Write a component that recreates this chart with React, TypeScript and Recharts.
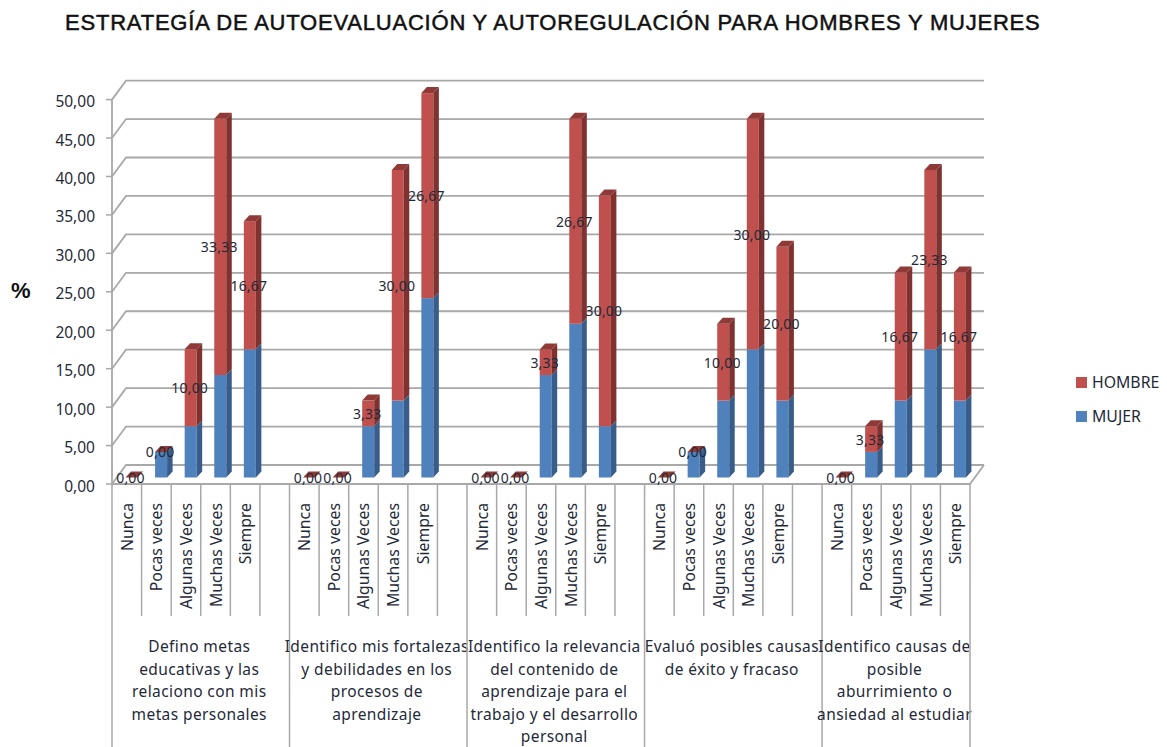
import { BarChart, Bar, XAxis, YAxis, CartesianGrid, Legend, LabelList } from 'recharts';

const FONT = '"Noto Sans", sans-serif';
const GRID = '#a8a8a8';
const TEXT = '#1f2a38';

const answers = ['Nunca', 'Pocas veces', 'Algunas Veces', 'Muchas Veces', 'Siempre', ''];
const categories = [...answers, ...answers, ...answers, ...answers, ...answers.slice(0, 5)];

const groupLabels = [
  ['Defino metas', 'educativas y las', 'relaciono con mis', 'metas personales'],
  ['Identifico mis fortalezas', 'y debilidades en los', 'procesos de', 'aprendizaje'],
  ['Identifico la relevancia', 'del contenido de', 'aprendizaje para el', 'trabajo y el desarrollo', 'personal'],
  ['Evaluó posibles causas', 'de éxito y fracaso'],
  ['Identifico causas de', 'posible', 'aburrimiento o', 'ansiedad al estudiar'],
];

const mujer = [
  0, 3.33, 6.67, 13.33, 16.67, null,
  0, 0, 6.67, 10, 23.33, null,
  0, 0, 13.33, 20, 6.67, null,
  0, 3.33, 10, 16.67, 10, null,
  0, 3.33, 10, 16.67, 10,
];
const hombre = [
  0, 0, 10, 33.33, 16.67, null,
  0, 0, 3.33, 30, 26.67, null,
  0, 0, 3.33, 26.67, 30, null,
  0, 0, 10, 30, 20, null,
  0, 3.33, 16.67, 23.33, 16.67,
];
const yTicks = [0, 5, 10, 15, 20, 25, 30, 35, 40, 45, 50];

const chartData = categories.map((name, i) => ({ name, MUJER: mujer[i], HOMBRE: hombre[i] }));

const PLOT_LEFT = 112;
const PLOT_RIGHT = 970;
const PLOT_TOP = 99.6;
const PLOT_BOTTOM = 484;
const SLOT = (PLOT_RIGHT - PLOT_LEFT) / categories.length;

// fake 3D offsets, Excel style
const WALL_DX = 14;
const WALL_DY = 19;
const BAR_DX = 4.5;
const BAR_DY = 6.5;
const DEPTH_X = 5.5;
const DEPTH_Y = 6;

const fmt = (v: number) => v.toFixed(2).replace('.', ',');

function GridLine({ x1, y1, x2, y2 }: any) {
  const isFloor = Math.abs(y1 - PLOT_BOTTOM) < 1;
  return (
    <g fill="none" stroke={GRID} strokeWidth={1.8}>
      <polyline points={`${x1},${y1} ${x1 + WALL_DX},${y1 - WALL_DY} ${x2 + WALL_DX},${y2 - WALL_DY}`} />
      {isFloor && <polyline points={`${x1},${y1} ${x2},${y2} ${x2 + WALL_DX},${y2 - WALL_DY}`} />}
    </g>
  );
}

function Bar3D({ x, y, width, height, front, side, top, cap, payload }: any) {
  if (payload.name === '') return null;
  const left = x + BAR_DX;
  const right = left + width;
  const t = y - BAR_DY;
  const b = t + height;
  return (
    <g>
      <rect x={left} y={t} width={width} height={height} fill={front} />
      <polygon
        points={`${right},${t} ${right + DEPTH_X},${t - DEPTH_Y} ${right + DEPTH_X},${b - DEPTH_Y} ${right},${b}`}
        fill={side}
      />
      {cap && (
        <polygon
          points={`${left},${t} ${left + DEPTH_X},${t - DEPTH_Y} ${right + DEPTH_X},${t - DEPTH_Y} ${right},${t}`}
          fill={top}
        />
      )}
    </g>
  );
}

function ValueLabel({ x, y, width, height, value }: any) {
  if (value == null) return null;
  return (
    <text
      x={x + width / 2 + 3.5}
      y={y + height / 2 - BAR_DY}
      textAnchor="middle"
      dominantBaseline="central"
      fontFamily={FONT}
      fontSize={14}
      letterSpacing={0.2}
      fill={TEXT}
    >
      {fmt(Number(value))}
    </text>
  );
}

function CategoryTick({ x, index, payload }: any) {
  const group = Math.floor(index / 6);
  const isGroupStart = index % 6 === 0;
  const isSpacer = index % 6 === 5;
  const isLast = index === categories.length - 1;
  const lines: string[] = groupLabels[group];
  const groupWidth = group === 4 ? SLOT * 5 : SLOT * 6;
  const slotLeft = x - SLOT / 2;
  return (
    <g>
      {isGroupStart && (
        <line x1={slotLeft} x2={slotLeft} y1={PLOT_BOTTOM} y2={747} stroke={GRID} strokeWidth={1.5} />
      )}
      {!isSpacer && (
        <line
          x1={x + SLOT / 2}
          x2={x + SLOT / 2}
          y1={PLOT_BOTTOM}
          y2={isLast ? 747 : 616}
          stroke={GRID}
          strokeWidth={1.5}
        />
      )}
      {payload.value && (
        <text
          transform={`translate(${x},503) rotate(-90)`}
          textAnchor="end"
          dominantBaseline="central"
          fontFamily={FONT}
          fontSize={15.8}
          fill={TEXT}
        >
          {payload.value}
        </text>
      )}
      {isGroupStart &&
        lines.map((line, i) => (
          <text
            key={line}
            x={slotLeft + groupWidth / 2 - 1.5}
            y={646 + i * 22.5}
            textAnchor="middle"
            dominantBaseline="central"
            fontFamily={FONT}
            fontSize={15.5}
            letterSpacing={0.4}
            fill={TEXT}
          >
            {line}
          </text>
        ))}
    </g>
  );
}

function LegendBox({ payload }: any) {
  return (
    <div style={{ fontFamily: FONT, fontSize: 15.8, color: TEXT }}>
      {(payload ?? []).map((item: any) => (
        <div key={item.value} style={{ display: 'flex', alignItems: 'center', height: 34 }}>
          <span style={{ width: 11, height: 11, background: item.color, marginRight: 5 }} />
          {item.value}
        </div>
      ))}
    </div>
  );
}

export default function App() {
  return (
    <div style={{ position: 'absolute', left: 0, top: 0, width: 1167, height: 747, background: '#fff', overflow: 'hidden' }}>
      <div
        style={{
          position: 'absolute',
          left: 65,
          top: 10,
          fontFamily: '"Liberation Sans", Arial, sans-serif',
          fontSize: 22,
          letterSpacing: 0.79,
          WebkitTextStroke: '0.5px #111',
          color: '#111',
          whiteSpace: 'nowrap',
        }}
      >
        ESTRATEGÍA DE AUTOEVALUACIÓN Y AUTOREGULACIÓN PARA HOMBRES Y MUJERES
      </div>
      <div
        style={{
          position: 'absolute',
          left: 11,
          top: 278,
          fontFamily: '"Liberation Sans", Arial, sans-serif',
          fontSize: 22,
          fontWeight: 700,
          color: '#111',
        }}
      >
        %
      </div>
      <BarChart
        width={1167}
        height={747}
        data={chartData}
        margin={{ top: PLOT_TOP, right: 1167 - PLOT_RIGHT, bottom: 0, left: 0 }}
        barSize={12}
        style={{ position: 'absolute', left: 0, top: 0 }}
      >
        <CartesianGrid vertical={false} horizontal={(props: any) => <GridLine key={props.key ?? props.y1} {...props} />} />
        <XAxis
          dataKey="name"
          interval={0}
          height={747 - PLOT_BOTTOM}
          tickLine={false}
          axisLine={false}
          tick={CategoryTick}
        />
        <YAxis
          width={PLOT_LEFT}
          domain={[0, 50]}
          ticks={yTicks}
          interval={0}
          tickFormatter={fmt}
          tickSize={6}
          tickMargin={11}
          axisLine={{ stroke: GRID, strokeWidth: 1.8 }}
          tickLine={{ stroke: GRID, strokeWidth: 1.5 }}
          tick={{ fontFamily: FONT, fontSize: 15.5, fill: TEXT, dy: 2 }}
        />
        <Legend
          layout="vertical"
          align="center"
          verticalAlign="middle"
          content={LegendBox}
          wrapperStyle={{ position: 'absolute', left: 1076, top: 365, width: 90 }}
        />
        <Bar
          dataKey="MUJER"
          stackId="a"
          fill="#4f81bd"
          isAnimationActive={false}
          shape={(p: any) => <Bar3D {...p} front="#4f81bd" side="#385d8a" />}
        />
        <Bar
          dataKey="HOMBRE"
          stackId="a"
          fill="#c0504d"
          isAnimationActive={false}
          shape={(p: any) => <Bar3D {...p} front="#c0504d" side="#7f3230" top="#8f3a37" cap />}
        >
          <LabelList dataKey="HOMBRE" content={ValueLabel} />
        </Bar>
      </BarChart>
    </div>
  );
}
